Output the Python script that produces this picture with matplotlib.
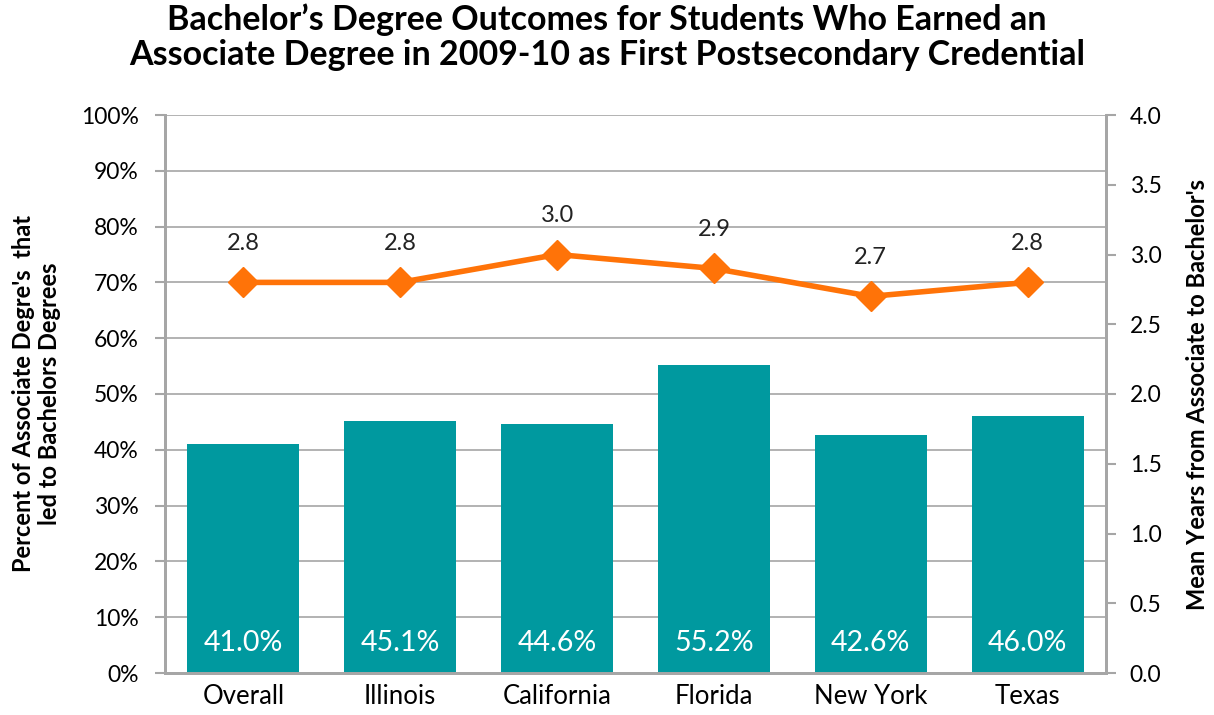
import matplotlib
matplotlib.use("Agg")
import matplotlib.pyplot as plt
from matplotlib.ticker import FuncFormatter, MultipleLocator

categories = ["Overall", "Illinois", "California", "Florida", "New York", "Texas"]
pct_bachelor = [41.0, 45.1, 44.6, 55.2, 42.6, 46.0]
mean_years = [2.8, 2.8, 3.0, 2.9, 2.7, 2.8]

plt.rcParams['font.family'] = ['Lato', 'DejaVu Sans']

fig = plt.figure(figsize=(12.14, 7.15), dpi=100)
ax = fig.add_axes([165/1214, 1-673/715, (1106-165)/1214, (673-115)/715])
ax2 = ax.twinx()

x = list(range(len(categories)))
bar_color = "#00999F"
line_color = "#FF7308"
grid_color = "#A6A6A6"

ax.bar(x, pct_bachelor, width=0.715, color=bar_color, zorder=2)
for xi, v in zip(x, pct_bachelor):
    ax.text(xi, 5.4, f"{v:.1f}%", ha="center", va="center", color="white", fontsize=20.5, zorder=3)

ax.set_xlim(-0.5, len(categories) - 0.5)
ax.set_ylim(0, 100)
ax.yaxis.set_major_locator(MultipleLocator(10))
ax.yaxis.set_major_formatter(FuncFormatter(lambda v, p: f"{v:.0f}%"))
ax.set_xticks(x)
ax.set_xticklabels(categories, fontsize=18.5)
ax.tick_params(axis='x', length=0, pad=8)
ax.tick_params(axis='y', labelsize=16.5, length=7, width=1.5, color=grid_color, pad=12)
ax.grid(axis='y', color=grid_color, linewidth=1.2, zorder=0)
ax.set_axisbelow(True)

ax2.plot(x, mean_years, color=line_color, linewidth=4, marker='D', markersize=15, zorder=5, clip_on=False)
for xi, v in zip(x, mean_years):
    ax2.annotate(f"{v:.1f}", (xi, v), xytext=(0, 28), textcoords='offset points',
                 ha='center', va='center', fontsize=17, color='#222222')
ax2.set_ylim(0, 4.0)
ax2.yaxis.set_major_locator(MultipleLocator(0.5))
ax2.yaxis.set_major_formatter(FuncFormatter(lambda v, p: f"{v:.1f}"))
ax2.tick_params(axis='y', labelsize=16.5, length=7, width=1.5, color=grid_color, pad=10)
ax.set_zorder(1)
ax2.set_zorder(2)
ax.patch.set_visible(True)
ax2.patch.set_visible(False)

for a in (ax, ax2):
    for s in ("top",):
        a.spines[s].set_visible(False)
    for s in ("left", "right", "bottom"):
        a.spines[s].set_color(grid_color)
        a.spines[s].set_linewidth(2)

ax.set_ylabel("Percent of Associate Degre's  that\nled to Bachelors Degrees", fontsize=17,
              fontweight='bold', labelpad=14, linespacing=1.15)
ax2.set_ylabel("Mean Years from Associate to Bachelor's", fontsize=17, fontweight='bold', labelpad=18)

fig.suptitle("Bachelor\u2019s Degree Outcomes for Students Who Earned an\nAssociate Degree in 2009-10 as First Postsecondary Credential",
             fontsize=24.5, fontweight='bold', y=0.995, linespacing=1.1)

fig.savefig("out.png", dpi=100)
